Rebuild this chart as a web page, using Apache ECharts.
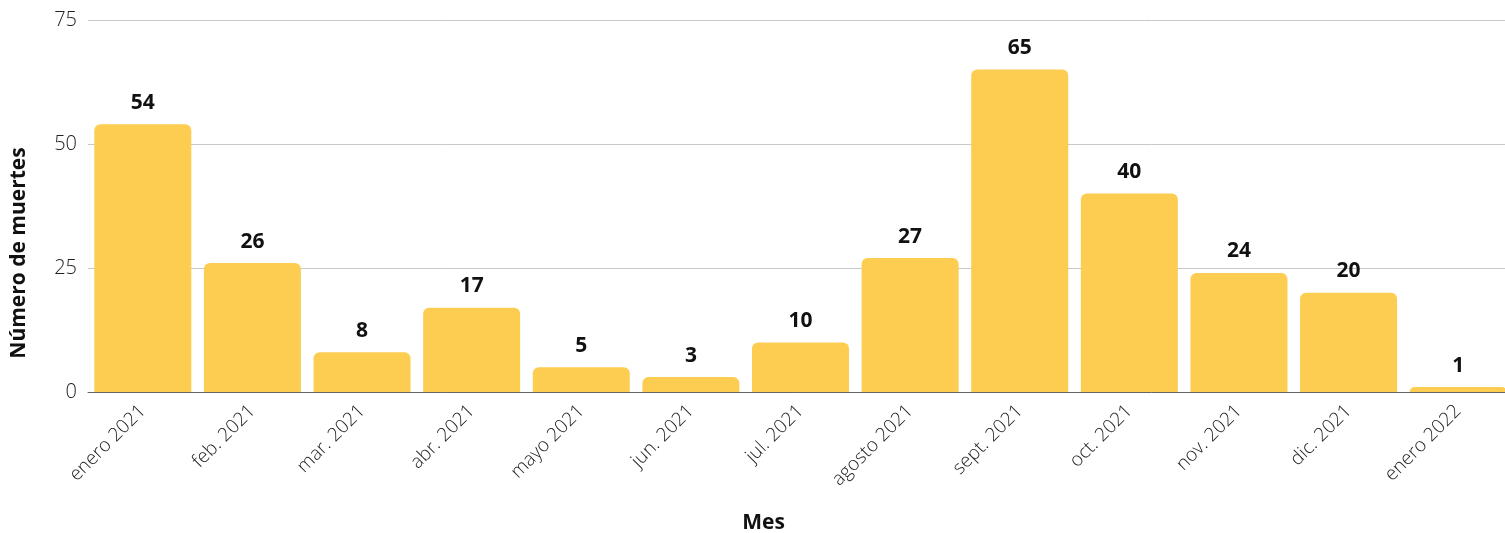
<!DOCTYPE html>
<html><head><meta charset="utf-8">
<script src="https://cdn.jsdelivr.net/npm/echarts@6/dist/echarts.min.js"></script>
<style>html,body{margin:0;padding:0;background:#fff}#c{width:1505px;height:533px}</style>
</head><body><div id="c"></div>
<script>
const categories = ["enero 2021","feb. 2021","mar. 2021","abr. 2021","mayo 2021","jun. 2021","jul. 2021","agosto 2021","sept. 2021","oct. 2021","nov. 2021","dic. 2021","enero 2022"];
const deaths = [54,26,8,17,5,3,10,27,65,40,24,20,1];
const yTicks = {min:0,max:75,interval:25};
const F = "'Open Sans', sans-serif";
const chart = echarts.init(document.getElementById('c'));
chart.setOption({
  animation:false,
  grid:{left:88,width:1425,top:20,height:372,containLabel:false,outerBoundsMode:'none'},
  xAxis:{type:'category',data:categories,
    axisLine:{lineStyle:{color:'#666',width:1}},axisTick:{show:false},
    axisLabel:{rotate:45,fontFamily:F,fontSize:19,fontWeight:300,color:'#222',margin:16,interval:0},
    name:'Mes',nameLocation:'middle',nameGap:121,
    nameTextStyle:{fontFamily:F,fontSize:21,fontWeight:'bold',color:'#111',padding:[0,74,0,0]}},
  yAxis:{type:'value',min:yTicks.min,max:yTicks.max,interval:yTicks.interval,
    axisLine:{show:false},axisTick:{show:false},
    splitLine:{lineStyle:{color:'#c8c8c8'}},
    axisLabel:{fontFamily:F,fontSize:20,fontWeight:300,color:'#222',margin:11},
    name:'Número de muertes',nameLocation:'middle',nameGap:58,
    nameTextStyle:{fontFamily:F,fontSize:21,fontWeight:'bold',color:'#111',padding:[0,94,0,0]}},
  series:[{type:'bar',data:deaths,barCategoryGap:'11.5%',
    itemStyle:{color:'#FDCD52',borderRadius:[6,6,0,0]},
    label:{show:true,position:'top',distance:11,fontFamily:F,fontSize:21,fontWeight:'bold',color:'#111'}}]
});
</script></body></html>
